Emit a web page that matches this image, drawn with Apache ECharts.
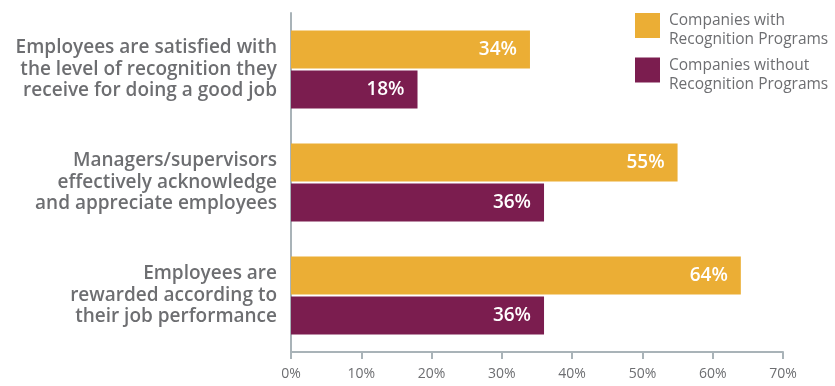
<!DOCTYPE html>
<html>
<head>
<meta charset="UTF-8">
<title>Recognition Programs</title>
<script src="https://cdn.jsdelivr.net/npm/echarts@6/dist/echarts.min.js"></script>
<style>
    html, body { margin: 0; padding: 0; background: #fff; }
    #chart { width: 835px; height: 386px; }
</style>
</head>
<body>
<div id="chart"></div>
<script type="text/javascript">
    // data
    var categories = [
        'Employees are satisfied with\nthe level of recognition they\nreceive for doing a good job',
        'Managers/supervisors\neffectively acknowledge\nand appreciate employees',
        'Employees are\nrewarded according to\ntheir job performance'
    ];
    var withPrograms = [34, 55, 64];
    var withoutPrograms = [18, 36, 36];
    var seriesNames = ['Companies with\nRecognition Programs', 'Companies without\nRecognition Programs'];

    var gray = '#6d6e71';
    var axisGray = '#a9b3b8';

    var chart = echarts.init(document.getElementById('chart'));
    var valueLabel = {
        show: true,
        position: 'insideRight',
        distance: 13,
        color: '#fff',
        fontSize: 19,
        fontWeight: 600,
        formatter: '{c}%'
    };
    // one legend per item so each box sits where it does in the picture;
    // a short blank first line pushes the text a bit below the box centre
    function legendAt(name, top) {
        return {
            orient: 'vertical',
            left: 635,
            top: top,
            padding: 0,
            itemWidth: 25,
            itemHeight: 25,
            icon: 'rect',
            formatter: function (n) {
                return '{s| }\n' + n.split('\n').map(function (l) { return '{t|' + l + '}'; }).join('\n');
            },
            textStyle: {
                color: gray,
                padding: [0, 0, 0, 4],
                rich: {
                    s: { fontSize: 1, lineHeight: 10 },
                    t: { color: gray, fontSize: 15.5, lineHeight: 19, fontFamily: 'Open Sans' }
                }
            },
            data: [name]
        };
    }
    var option = {
        animation: false,
        textStyle: { fontFamily: 'Open Sans' },
        grid: { left: 291, right: 52, top: 13, bottom: 34 },
        legend: [legendAt(seriesNames[0], 6), legendAt(seriesNames[1], 50.5)],
        xAxis: {
            type: 'value',
            min: 0,
            max: 70,
            interval: 10,
            axisLine: { show: true, lineStyle: { color: axisGray, width: 2 } },
            axisTick: { show: true, length: 7, lineStyle: { color: axisGray, width: 2 } },
            splitLine: { show: false },
            axisLabel: { color: gray, fontSize: 14, margin: 15, formatter: '{value}%' }
        },
        yAxis: {
            type: 'category',
            inverse: true,
            data: categories,
            axisLine: { lineStyle: { color: axisGray, width: 2 } },
            axisTick: { length: 8, lineStyle: { color: axisGray, width: 2 } },
            axisLabel: {
                color: gray,
                fontSize: 19,
                fontWeight: 600,
                lineHeight: 21.5,
                margin: 14,
                align: 'right'
            }
        },
        series: [
            {
                name: seriesNames[0],
                type: 'bar',
                data: withPrograms,
                barWidth: 38,
                barGap: '5%',
                itemStyle: { color: '#ebae35' },
                label: valueLabel
            },
            {
                name: seriesNames[1],
                type: 'bar',
                data: withoutPrograms,
                barWidth: 38,
                barGap: '5%',
                itemStyle: { color: '#7b1d4f' },
                label: valueLabel
            }
        ]
    };
    chart.setOption(option);
</script>
</body>
</html>
